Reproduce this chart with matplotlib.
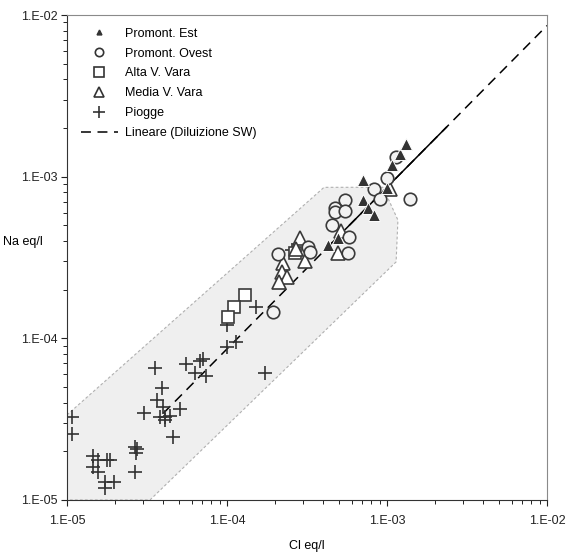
import numpy as np
import matplotlib
matplotlib.use('Agg')
import matplotlib.pyplot as plt
from matplotlib.lines import Line2D
from matplotlib.patches import Polygon

plt.rcParams['font.family'] = ['Liberation Sans', 'DejaVu Sans']

# dati (eq/l)
est_cl = [4.30e-4, 4.97e-4, 7.05e-4, 7.64e-4, 8.24e-4, 7.13e-4, 1.00e-3, 1.08e-3, 1.21e-3, 1.31e-3]
est_na = [3.78e-4, 4.15e-4, 7.17e-4, 6.44e-4, 5.79e-4, 9.53e-4, 8.51e-4, 1.18e-3, 1.38e-3, 1.59e-3]

ovest_cl = [1.93e-4, 2.09e-4, 3.22e-4, 3.30e-4, 4.51e-4, 4.73e-4, 4.73e-4, 5.46e-4, 5.46e-4,
            5.81e-4, 5.68e-4, 8.30e-4, 9.04e-4, 1.00e-3, 1.14e-3, 1.39e-3]
ovest_na = [1.46e-4, 3.32e-4, 3.66e-4, 3.42e-4, 5.02e-4, 6.37e-4, 6.04e-4, 7.17e-4, 6.12e-4,
            4.25e-4, 3.37e-4, 8.38e-4, 7.26e-4, 9.75e-4, 1.33e-3, 7.24e-4]

alta_cl = [1.30e-4, 1.10e-4, 1.02e-4, 2.66e-4]
alta_na = [1.85e-4, 1.57e-4, 1.36e-4, 3.37e-4]

media_cl = [2.23e-4, 2.20e-4, 2.38e-4, 2.12e-4, 2.84e-4, 2.70e-4, 3.07e-4, 5.16e-4, 4.97e-4, 1.05e-3]
media_na = [2.92e-4, 2.59e-4, 2.39e-4, 2.24e-4, 4.15e-4, 3.56e-4, 3.01e-4, 4.64e-4, 3.37e-4, 8.44e-4]

piogge_cl = [1.08e-5, 1.08e-5, 1.45e-5, 1.57e-5, 1.77e-5, 1.86e-5, 1.45e-5, 1.57e-5, 1.73e-5,
             1.96e-5, 1.73e-5, 2.66e-5, 2.73e-5, 2.70e-5, 2.66e-5, 3.03e-5, 3.55e-5, 3.91e-5,
             3.64e-5, 4.00e-5, 3.81e-5, 4.10e-5, 4.41e-5, 4.10e-5, 5.08e-5, 4.62e-5, 5.58e-5,
             6.31e-5, 6.78e-5, 7.08e-5, 7.35e-5, 9.96e-5, 1.52e-4, 9.96e-5, 1.14e-4, 1.73e-4,
             2.54e-4]
piogge_na = [3.24e-5, 2.56e-5, 1.87e-5, 1.77e-5, 1.77e-5, 1.77e-5, 1.59e-5, 1.48e-5, 1.30e-5,
             1.30e-5, 1.18e-5, 2.14e-5, 2.06e-5, 1.96e-5, 1.48e-5, 3.47e-5, 6.52e-5, 4.91e-5,
             4.15e-5, 3.78e-5, 3.24e-5, 3.24e-5, 3.30e-5, 3.13e-5, 3.64e-5, 2.45e-5, 6.94e-5,
             6.10e-5, 7.26e-5, 7.50e-5, 5.81e-5, 1.21e-4, 1.56e-4, 8.79e-5, 9.49e-5, 6.12e-5,
             3.51e-4]

# diluizione acqua di mare
sw_cl = [4.0e-5, 1.0e-2]
sw_ratio = 0.86
sw_solid_cl = [4.4e-4, 2.35e-3]

# area di campo
env_cl = [1e-5, 1e-5, 4.04e-4, 9.44e-4, 1.17e-3, 1.14e-3, 3.3e-5]
env_na = [1e-5, 3.36e-5, 8.59e-4, 8.6e-4, 5.39e-4, 2.97e-4, 1e-5]

ticks = [1e-5, 1e-4, 1e-3, 1e-2]
tick_labels = ['1.E-05', '1.E-04', '1.E-03', '1.E-02']

fig = plt.figure(figsize=(5.67, 5.54), dpi=100)
ax = fig.add_axes([67/567, 54/554, 480/567, 485/554])
ax.set_xscale('log')
ax.set_yscale('log')
ax.set_xlim(1e-5, 1e-2)
ax.set_ylim(1e-5, 1e-2)

ax.add_patch(Polygon(np.column_stack([env_cl, env_na]), closed=True, facecolor='#efefef',
                     edgecolor='#b0b0b0', linestyle=(0, (2.5, 2)), linewidth=0.8, zorder=1))

sw_x = np.array(sw_cl)
ax.plot(sw_x, sw_ratio * sw_x, color='black', linewidth=1.1, dashes=(6.5, 4.3), zorder=2)
sw_s = np.array(sw_solid_cl)
ax.plot(sw_s, sw_ratio * sw_s, color='black', linewidth=1.1, zorder=2)

ax.plot(piogge_cl, piogge_na, '+', color='#333333', ms=10, mew=1.2, zorder=3)
ax.plot(alta_cl, alta_na, 's', mfc='white', mec='#3a3a3a', ms=9, mew=1.2, zorder=3)
ax.plot(media_cl, media_na, '^', mfc='white', mec='#3a3a3a', ms=9.5, mew=1.2, zorder=3)
ax.plot(ovest_cl, ovest_na, 'o', mfc='#f2f2f2', mec='#3a3a3a', ms=9, mew=1.2, zorder=4)
ax.plot(est_cl, est_na, '^', mfc='#333333', mec='white', ms=9, mew=0.7, zorder=5)

ax.set_xticks(ticks)
ax.set_xticklabels(tick_labels)
ax.set_yticks(ticks)
ax.set_yticklabels(tick_labels)
ax.tick_params(which='major', direction='out', length=4, width=0.8, labelsize=9, colors='#222222')
ax.tick_params(which='minor', direction='out', length=3, width=0.7, colors='#222222')
ax.tick_params(axis='x', pad=7)
ax.tick_params(axis='y', pad=3)

for s in ['top', 'right']:
    ax.spines[s].set_color('#8a8a8a')
for s in ['left', 'bottom']:
    ax.spines[s].set_color('#333333')

ax.set_xlabel('Cl eq/l', fontsize=9, labelpad=9)
ax.set_ylabel('Na eq/l', fontsize=9, rotation=0, va='center')
ax.yaxis.set_label_coords(-0.092, 0.532)

handles = [
    Line2D([], [], ls='none', marker='^', color='#333333', ms=3.5),
    Line2D([], [], ls='none', marker='o', mfc='white', mec='#333333', ms=6, mew=1.2),
    Line2D([], [], ls='none', marker='s', mfc='white', mec='#333333', ms=6.5, mew=1.2),
    Line2D([], [], ls='none', marker='^', mfc='white', mec='#333333', ms=7, mew=1.2),
    Line2D([], [], ls='none', marker='+', color='#333333', ms=8, mew=1.2),
    Line2D([], [], color='black', lw=1.1, dashes=(6.5, 4.3)),
]
labels = ['Promont. Est', 'Promont. Ovest', 'Alta V. Vara', 'Media V. Vara', 'Piogge',
          'Lineare (Diluizione SW)']
ax.legend(handles, labels, loc='upper left', bbox_to_anchor=(0.01, 0.992), frameon=False,
          fontsize=9, handlelength=3.0, handletextpad=0.55, labelspacing=0.63, borderpad=0.2)

fig.savefig('out.png', dpi=100)
